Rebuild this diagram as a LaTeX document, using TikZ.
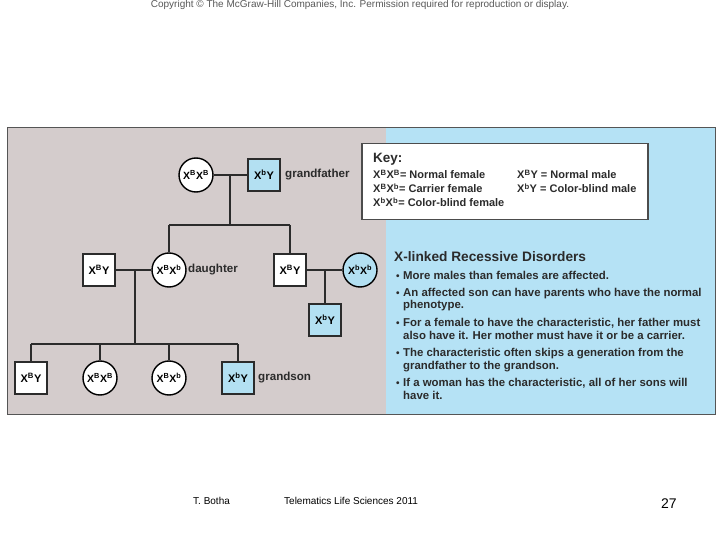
\documentclass[tikz,border=0pt]{standalone}
\usepackage{fontspec}
\setmainfont{Liberation Sans}
\definecolor{pgray}{HTML}{D4CCCC}
\definecolor{pblue}{HTML}{B5E2F5}
\definecolor{nblue}{HTML}{B3E0F2}
\definecolor{ink}{HTML}{2B2B2B}
\newcommand\Xs[1]{X\textsuperscript{#1}}
\begin{document}
\begin{tikzpicture}[x=1pt,y=-1pt,
  male/.style={draw=ink,line width=1.1pt,fill=white,minimum size=32pt,inner sep=0pt,font=\bfseries\fontsize{11}{12}\selectfont},
  female/.style={circle,draw=black,line width=1.4pt,fill=white,minimum size=34pt,inner sep=0pt,font=\bfseries\fontsize{10.5}{12}\selectfont},
  aff/.style={fill=nblue},
  conn/.style={draw=ink,line width=1.7pt},
  lbl/.style={anchor=west,inner sep=0pt,font=\bfseries\fontsize{11.6}{12}\selectfont,text=ink},
  keyt/.style={anchor=base west,inner sep=0pt,font=\bfseries\fontsize{11}{12}\selectfont,text=ink},
  bul/.style={anchor=base west,inner sep=0pt,font=\bfseries\fontsize{11.4}{12}\selectfont,text=ink},
  dot/.style={anchor=base west,inner sep=0pt,font=\bfseries\fontsize{10}{12}\selectfont,text=ink},
  foot/.style={inner sep=0pt,font=\fontsize{10}{12}\selectfont}]
\useasboundingbox (0,0) rectangle (720,540);
\fill[white] (0,0) rectangle (720,540);
% panel
\fill[pgray] (7,127) rectangle (386,414);
\fill[pblue] (386,127) rectangle (715,414);
\draw[ink!80,line width=0.8pt] (7,127) rectangle (715,414);
% key box
\node[draw=black!70,line width=1.5pt,fill=white,minimum width=286pt,minimum height=76pt,anchor=north west,inner sep=0pt] (key) at (361,143) {};
\node[keyt,font=\bfseries\fontsize{13.5}{14}\selectfont] (keyh) at (373,163) {Key:};
\node[keyt] (k1) at (373,179) {\Xs{B}\Xs{B}= Normal female};
\node[keyt] (k2) at (373,193) {\Xs{B}\Xs{b}= Carrier female};
\node[keyt] (k3) at (373,207) {\Xs{b}\Xs{b}= Color-blind female};
\node[keyt] (k4) at (517,179) {\Xs{B}Y = Normal male};
\node[keyt] (k5) at (517,193) {\Xs{b}Y = Color-blind male};
% disorders text
\node[keyt,font=\bfseries\fontsize{13.7}{14}\selectfont] (head) at (394,261) {X-linked Recessive Disorders};
\node[dot] (b1) at (396,279) {•};
\node[bul] (t1) at (403,279) {More males than females are affected.};
\node[dot] (b2) at (396,296) {•};
\node[bul] (t2) at (403,296) {An affected son can have parents who have the normal};
\node[bul] (t2b) at (403,308) {phenotype.};
\node[dot] (b3) at (396,326) {•};
\node[bul] (t3) at (403,326) {For a female to have the characteristic, her father must};
\node[bul] (t3b) at (403,339) {also have it. Her mother must have it or be a carrier.};
\node[dot] (b4) at (396,356) {•};
\node[bul] (t4) at (403,356) {The characteristic often skips a generation from the};
\node[bul] (t4b) at (403,369) {grandfather to the grandson.};
\node[dot] (b5) at (396,386) {•};
\node[bul] (t5) at (403,386) {If a woman has the characteristic, all of her sons will};
\node[bul] (t5b) at (403,399) {have it.};
% generation 1
\node[female] (gm) at (196,175) {\Xs{B}\Xs{B}};
\node[male,aff] (gf) at (264,175) {\Xs{b}Y};
\node[lbl] (lgf) at (285,175) {grandfather};
% generation 2
\node[male] (f1) at (99,270) {\Xs{B}Y};
\node[female] (dau) at (169,270) {\Xs{B}\Xs{b}};
\node[lbl] (ldau) at (188,270) {daughter};
\node[male] (f2) at (290,270) {\Xs{B}Y};
\node[female,aff] (m2) at (360,270) {\Xs{b}\Xs{b}};
\node[male,aff] (s2) at (325,320) {\Xs{b}Y};
% generation 3
\node[male] (c1) at (31,378) {\Xs{B}Y};
\node[female] (c2) at (100,378) {\Xs{B}\Xs{B}};
\node[female] (c3) at (169,378) {\Xs{B}\Xs{b}};
\node[male,aff] (c4) at (238,378) {\Xs{b}Y};
\node[lbl] (lgs) at (258,378) {grandson};
% connectors
\coordinate (m1) at (230,175);
\coordinate (d1) at (230,225);
\coordinate (h1l) at (169,225);
\coordinate (h1r) at (290,225);
\draw[conn] (gm.east) -- (gf.west);
\draw[conn] (m1) -- (d1);
\draw[conn] (h1l) -- (h1r);
\draw[conn] (h1l) -- (dau.north);
\draw[conn] (h1r) -- (f2.north);
\coordinate (m2a) at (135,270);
\coordinate (m2b) at (135,344);
\draw[conn] (f1.east) -- (dau.west);
\draw[conn] (m2a) -- (m2b);
\coordinate (m3a) at (325,270);
\draw[conn] (f2.east) -- (m2.west);
\draw[conn] (m3a) -- (s2.north);
\coordinate (h3l) at (31,344);
\coordinate (h3a) at (100,344);
\coordinate (h3b) at (169,344);
\coordinate (h3r) at (238,344);
\draw[conn] (h3l) -- (h3r);
\draw[conn] (h3l) -- (c1.north);
\draw[conn] (h3a) -- (c2.north);
\draw[conn] (h3b) -- (c3.north);
\draw[conn] (h3r) -- (c4.north);
% footer
\node[foot,text=black!65] (copy) at (360,5) {Copyright © The McGraw-Hill Companies, Inc. Permission required for reproduction or display.};
\node[foot,anchor=west] (auth) at (193,501) {T. Botha};
\node[foot,anchor=west] (course) at (284,501) {Telematics Life Sciences 2011};
\node[foot,anchor=west,font=\fontsize{14}{14}\selectfont] (pg) at (661,504) {27};
\end{tikzpicture}
\end{document}
